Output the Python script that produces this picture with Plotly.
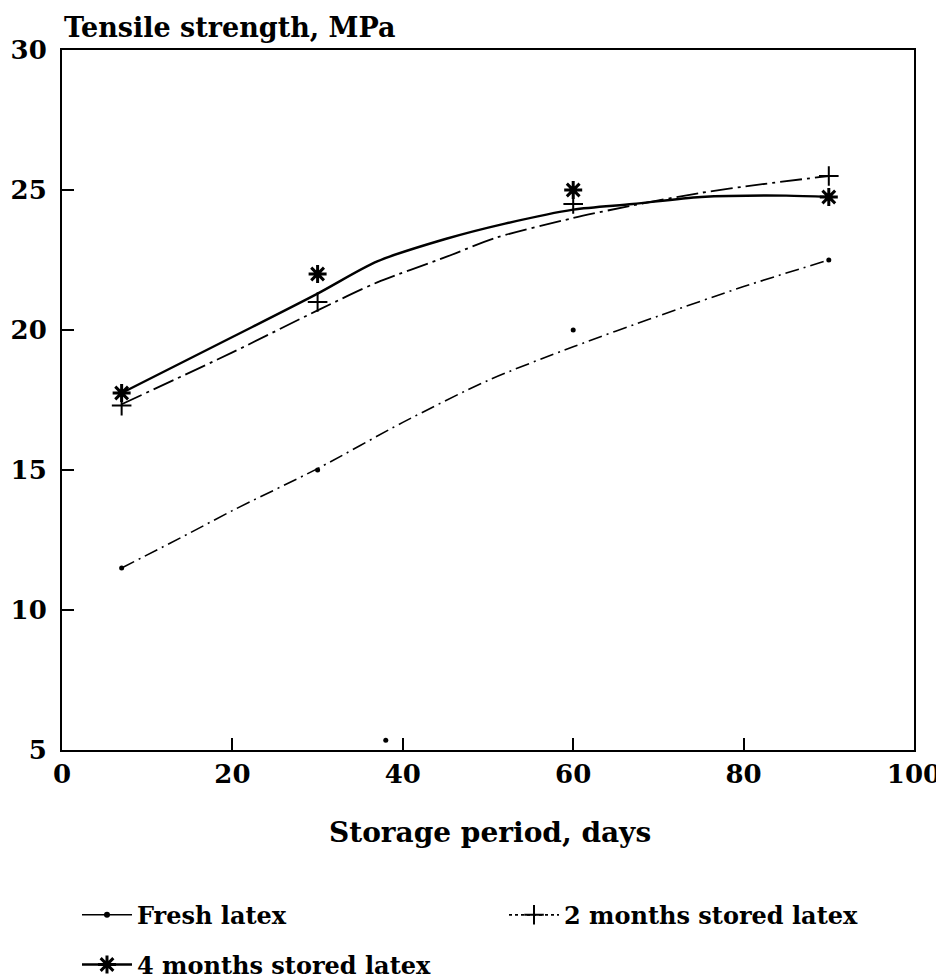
import plotly.graph_objects as go

# ---- data ----
days = [7, 30, 60, 90]
fresh_y = [11.5, 15.0, 20.0, 22.5]
two_y = [17.3, 21.0, 24.5, 25.5]
four_y = [17.75, 22.0, 25.0, 24.75]

fresh_curve_x = [7, 15, 20, 30, 40, 50, 60, 70, 80, 90]
fresh_curve_y = [11.5, 12.75, 13.55, 15.05, 16.7, 18.2, 19.4, 20.5, 21.55, 22.5]
two_curve_x = [7, 20, 30, 37, 45, 51, 60, 67, 75, 82, 90]
two_curve_y = [17.35, 19.2, 20.7, 21.7, 22.6, 23.3, 24.0, 24.45, 24.9, 25.2, 25.5]
four_curve_x = [7, 20, 30, 37, 45, 52, 60, 67, 75, 85, 90]
four_curve_y = [17.75, 19.75, 21.3, 22.45, 23.25, 23.8, 24.3, 24.5, 24.75, 24.8, 24.75]

stray_x = [38]
stray_y = [5.35]

names = ["Fresh latex", "2 months stored latex", "4 months stored latex"]
x_ticks = [0, 20, 40, 60, 80, 100]
y_ticks = [5, 10, 15, 20, 25, 30]

FONT = "DejaVu Serif"
BLACK = "#000000"

fig = go.Figure()

styles = [
    dict(dash="14px,5px,2px,5px", width=1.6, symbol="circle", size=5, mlw=0),
    dict(dash="22px,5px,3px,5px", width=1.8, symbol="cross-thin-open", size=14, mlw=2),
    dict(dash="solid", width=2.4, symbol="asterisk-open", size=15, mlw=3),
]
curves = [(fresh_curve_x, fresh_curve_y), (two_curve_x, two_curve_y), (four_curve_x, four_curve_y)]
points = [fresh_y, two_y, four_y]
legend_ids = ["legend", "legend2", "legend3"]

for i in range(3):
    st = styles[i]
    cx, cy = curves[i]
    fig.add_trace(go.Scatter(
        x=cx, y=cy, mode="lines", line=dict(color=BLACK, width=st["width"], dash=st["dash"],
                                            shape="spline", smoothing=0.8),
        showlegend=False, hoverinfo="skip"))
    fig.add_trace(go.Scatter(
        x=days, y=points[i], mode="markers",
        marker=dict(symbol=st["symbol"], size=st["size"], color=BLACK,
                    line=dict(color=BLACK, width=st["mlw"])),
        showlegend=False))

# legend entries
for i in range(3):
    st = styles[i]
    fig.add_trace(go.Scatter(
        x=[None], y=[None], mode="lines+markers", name=names[i], legend=legend_ids[i],
        line=dict(color=BLACK, width=st["width"], dash="solid" if i != 1 else "dot"),
        marker=dict(symbol=st["symbol"], size=st["size"] if i else 6, color=BLACK,
                    line=dict(color=BLACK, width=st["mlw"]))))

fig.add_trace(go.Scatter(x=stray_x, y=stray_y, mode="markers",
                         marker=dict(symbol="circle", size=5, color=BLACK),
                         showlegend=False, hoverinfo="skip"))

axis_common = dict(showgrid=False, zeroline=False, showline=True, linecolor=BLACK, linewidth=2,
                   mirror=True, ticks="inside", ticklen=12, tickwidth=1.5, tickcolor=BLACK,
                   automargin=False,
                   tickfont=dict(family=FONT, size=26, color=BLACK, weight="bold"))

fig.update_xaxes(range=[0, 100], tickvals=x_ticks, ticktext=[str(v) for v in x_ticks], **axis_common)
fig.update_yaxes(range=[5, 30], tickvals=y_ticks, ticktext=[str(v) for v in y_ticks],
                 ticklabelstandoff=8, **axis_common)

legend_font = dict(family=FONT, size=24, color=BLACK, weight="bold")
leg_common = dict(orientation="h", xanchor="left", yanchor="middle", itemwidth=50,
                  font=legend_font, bgcolor="rgba(0,0,0,0)")
fig.update_layout(
    width=936, height=972,
    margin=dict(l=54, r=30, t=42, b=230, autoexpand=False),
    plot_bgcolor="white", paper_bgcolor="white",
    showlegend=True,
    legend=dict(x=0.0176, y=-0.236, **leg_common),
    legend2=dict(x=0.5188, y=-0.236, **leg_common),
    legend3=dict(x=0.0176, y=-0.307, **leg_common),
    annotations=[
        dict(text="Tensile strength, MPa", xref="paper", yref="paper", x=0, y=1,
             xanchor="left", yanchor="middle", yshift=23, showarrow=False,
             font=dict(family=FONT, size=27, color=BLACK, weight="bold")),
        dict(text="Storage period, days", xref="paper", yref="paper", x=0.502, y=0,
             xanchor="center", yanchor="middle", yshift=-82, showarrow=False,
             font=dict(family=FONT, size=28, color=BLACK, weight="bold")),
    ],
)

fig.write_html("out.html")
